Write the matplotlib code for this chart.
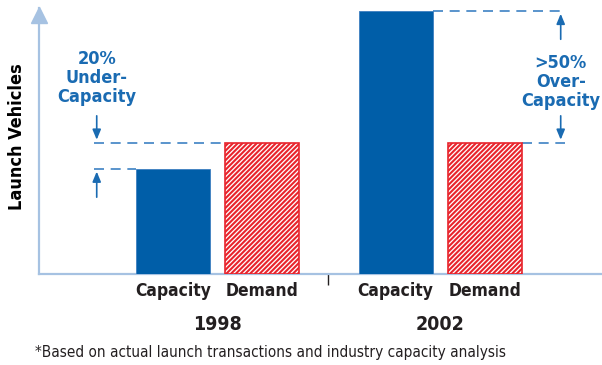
import matplotlib
matplotlib.use("Agg")
import matplotlib.pyplot as plt
import matplotlib.transforms as mtransforms

# data (demand = 100)
years = ["1998", "2002"]
bar_labels = ["Capacity", "Demand", "Capacity", "Demand"]
values = [80, 100, 200, 100]
notes = ["20%\nUnder-\nCapacity", ">50%\nOver-\nCapacity"]
footnote = "*Based on actual launch transactions and industry capacity analysis"

blue = "#005ea8"
red = "#e8242c"
text_blue = "#1a6bb2"
axis_col = "#a6c2e2"
dark = "#231f20"
fam = ["DejaVu Sans"]
cond = "condensed"

plt.rcParams["hatch.linewidth"] = 1.5

W, H = 602, 365
fig = plt.figure(figsize=(W / 100, H / 100), dpi=100)
ax = fig.add_axes([39 / W, (H - 274) / H, 563 / W, (274 - 8) / H])

group_x = [2.415, 5.425]
off = 0.605
xs = [group_x[0] - off, group_x[0] + off, group_x[1] - off, group_x[1] + off]

for i, (x, v) in enumerate(zip(xs, values)):
    if i % 2 == 0:
        ax.bar(x, v, width=1.0, color=blue, edgecolor="#3d7fc0", linewidth=0.6, zorder=3)
    else:
        ax.bar(x, v, width=1.0, color="white", edgecolor=red, hatch="///////",
               linewidth=1.2, zorder=3)

ax.set_xlim(0, 563 / 74)
ax.set_ylim(0, 202.3)

for s in ["top", "right"]:
    ax.spines[s].set_visible(False)
for s in ["left", "bottom"]:
    ax.spines[s].set_color(axis_col)
    ax.spines[s].set_linewidth(1.6)
ax.plot([0], [0.975], marker="^", ms=11, color=axis_col, transform=ax.transAxes,
        clip_on=False, zorder=5)

ax.set_yticks([])
ax.set_xticks(xs)
ax.set_xticklabels(bar_labels, family=fam, fontstretch=cond, fontweight="bold",
                   fontsize=12.5, color=dark)
ax.tick_params(axis="x", which="major", length=0, pad=6)
ax.set_xticks([3.9], minor=True)
ax.tick_params(axis="x", which="minor", length=8, width=1, color=dark)

trans = mtransforms.blended_transform_factory(ax.transData, fig.transFigure)
for gx, yr in zip(group_x, years):
    ax.text(gx, 1 - 324 / H, yr, transform=trans, ha="center", va="center",
            family=fam, fontstretch=cond, fontweight="bold", fontsize=14, color=dark)

fig.text(17 / W, 1 - 137 / H, "Launch Vehicles", rotation=90, ha="center", va="center",
         family=fam, fontstretch=cond, fontweight="bold", fontsize=13, color="black")
fig.text(35 / W, 1 - 353 / H, footnote, ha="left", va="center",
         family=fam, fontstretch=cond, fontsize=11, color=dark)

dash = dict(color="#3d82c4", lw=1.2, ls=(0, (6, 4)), zorder=2)
arrow = dict(arrowstyle="-|>,head_length=0.6,head_width=0.25", color=text_blue, lw=1.2)

# 1998 under-capacity
ax.plot([0.74, xs[1] - 0.5], [values[1], values[1]], **dash)
ax.plot([0.74, xs[0] - 0.5], [values[0], values[0]], **dash)
ax.annotate("", xy=(0.78, values[1]), xytext=(0.78, 122.4), arrowprops=arrow)
ax.annotate("", xy=(0.78, values[0]), xytext=(0.78, 56.3), arrowprops=arrow)
ax.text(0.78, 149, notes[0], ha="center", va="center", linespacing=1.05,
        family=fam, fontstretch=cond, fontweight="bold", fontsize=13, color=text_blue)

# 2002 over-capacity
ax.plot([xs[2] + 0.5, 7.11], [values[2], values[2]], clip_on=False, **dash)
ax.plot([xs[3] + 0.5, 7.11], [values[3], values[3]], **dash)
ax.annotate("", xy=(7.05, values[2]), xytext=(7.05, 176.4), arrowprops=arrow)
ax.annotate("", xy=(7.05, values[3]), xytext=(7.05, 122.4), arrowprops=arrow)
ax.text(7.05, 146, notes[1], ha="center", va="center", linespacing=1.05,
        family=fam, fontstretch=cond, fontweight="bold", fontsize=13, color=text_blue)

fig.savefig("out.png", dpi=100)
